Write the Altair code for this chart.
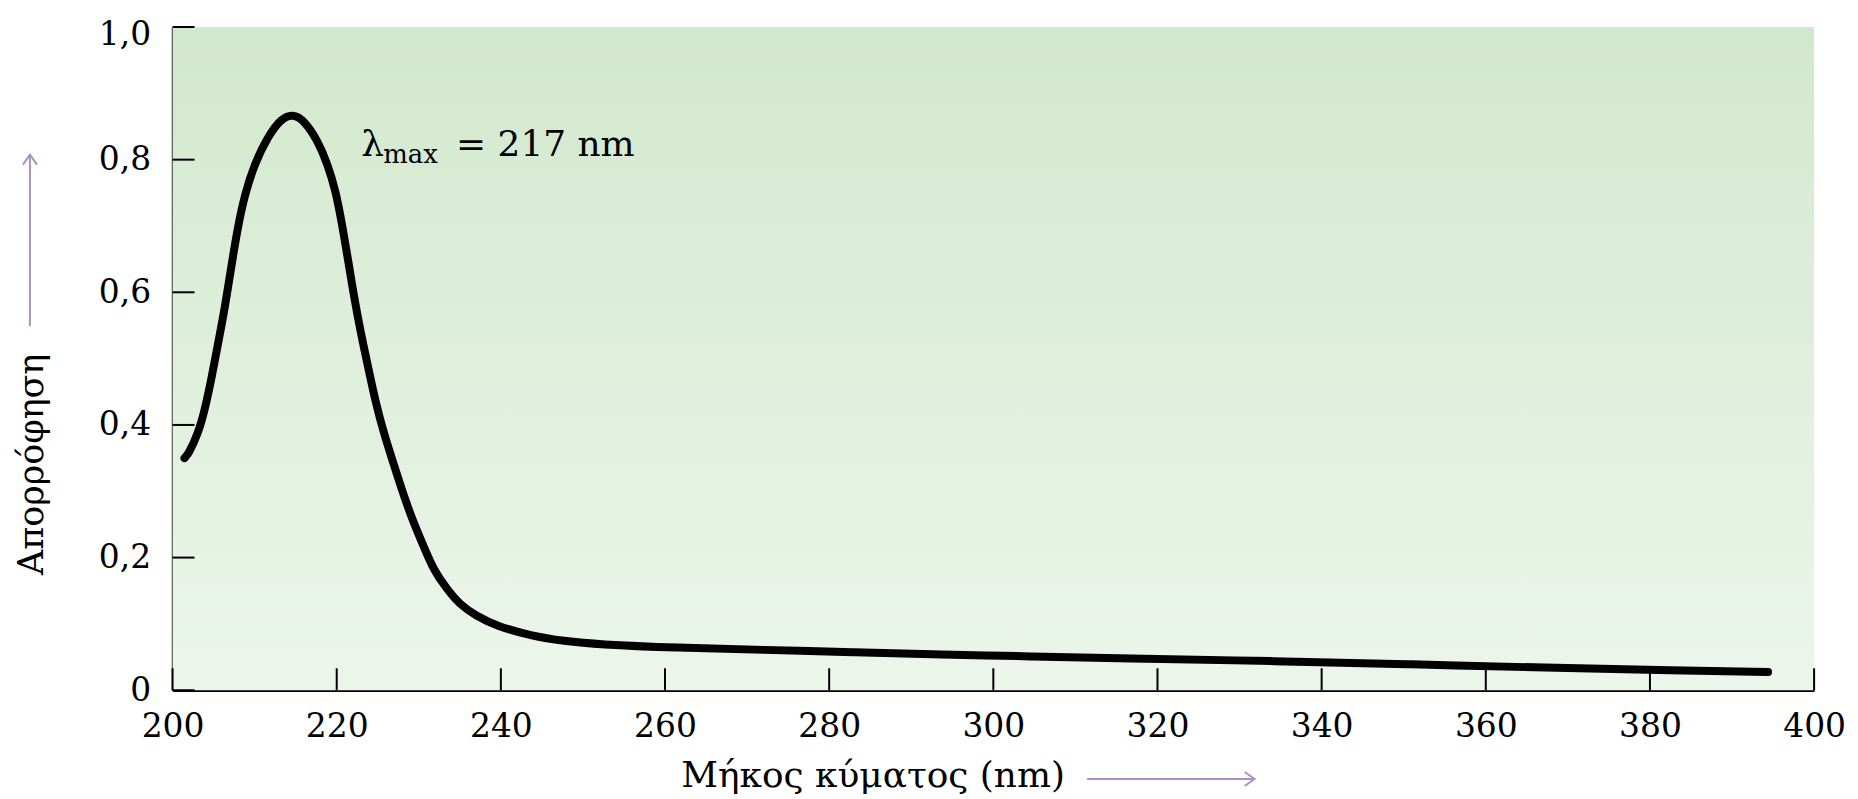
import altair as alt
import pandas as pd

# --- data ---
wavelength = [201.45, 201.94, 203.15, 203.95, 204.76, 205.56, 206.37, 207.18, 207.98, 208.79,
              210.0, 211.61, 213.23, 214.64, 216.05, 217.66, 218.87, 219.88, 220.69, 221.49,
              222.10, 222.90, 223.71, 224.72, 225.73, 226.94, 228.15, 229.35, 230.56, 231.77,
              233.39, 235.0, 237.02, 239.44, 243.7, 247.7, 251.8, 261.3, 272.1, 282.9,
              293.7, 304.6, 315.4, 334.7, 350.9, 367.2, 383.3, 394.4]
absorbance = [0.350, 0.356, 0.388, 0.424, 0.471, 0.524, 0.576, 0.641, 0.700, 0.747,
              0.794, 0.835, 0.862, 0.869, 0.859, 0.829, 0.794, 0.753, 0.700, 0.641,
              0.594, 0.541, 0.494, 0.435, 0.388, 0.341, 0.294, 0.253, 0.218, 0.182,
              0.153, 0.129, 0.112, 0.097, 0.082, 0.074, 0.069, 0.064, 0.061, 0.057,
              0.054, 0.051, 0.048, 0.044, 0.039, 0.034, 0.030, 0.0275]

x_ticks = [200, 220, 240, 260, 280, 300, 320, 340, 360, 380, 400]
y_ticks = [0, 0.2, 0.4, 0.6, 0.8, 1.0]

annot_x = 223.0
annot_y = 0.806

W, H = 1646, 665
FONT = "DejaVu Serif"
PURPLE = "#a98fc4"

df = pd.DataFrame({"wl": wavelength, "A": absorbance})
xt = pd.DataFrame({"v": x_ticks})
yt = pd.DataFrame({"v": y_ticks})
one = pd.DataFrame({"d": [0]})
ann = pd.DataFrame({"x": [annot_x], "y": [annot_y]})

xscale = alt.Scale(domain=[200, 400], nice=False, zero=False)
yscale = alt.Scale(domain=[0, 1], nice=False)

bg = alt.Chart(one).mark_rect(
    fill=alt.Gradient(gradient="linear",
                      stops=[alt.GradientStop(color="#d2e8cd", offset=0),
                             alt.GradientStop(color="#ecf6eb", offset=1)],
                      x1=0, x2=0, y1=0, y2=1)
).encode(x=alt.value(0), x2=alt.value(W), y=alt.value(0), y2=alt.value(H))

line = alt.Chart(df).mark_line(
    color="black", strokeWidth=8, interpolate="basis", strokeCap="round"
).encode(
    x=alt.X("wl:Q", scale=xscale,
            axis=alt.Axis(title="Μήκος κύματος (nm)", values=x_ticks, format="d",
                          grid=False, ticks=False, domain=True, domainColor="black",
                          domainWidth=2.5, labelFont=FONT, labelFontSize=33,
                          labelColor="black", labelPadding=20, labelOverlap=False,
                          labelFlush=False, labelBound=False,
                          titleFont=FONT, titleFontSize=36, titleFontWeight="normal",
                          titleColor="black", titleX=702, titleY=97,
                          titleBaseline="alphabetic", titleAlign="center")),
    y=alt.Y("A:Q", scale=yscale,
            axis=alt.Axis(title="Απορρόφηση", values=y_ticks,
                          labelExpr="datum.value == 0 ? '0' : replace(format(datum.value, '.1f'), '.', ',')",
                          labelOffset={"condition": {"test": "datum.value == 1", "value": 8}, "value": 0},
                          grid=False, ticks=False, domain=True, domainColor="black",
                          domainWidth=2.5, labelFont=FONT, labelFontSize=33,
                          labelColor="black", labelPadding=22, labelOverlap=False,
                          labelFlush=False, labelBound=False,
                          titleFont=FONT, titleFontSize=35, titleFontWeight="normal",
                          titleColor="black", titleX=-130, titleY=438, titleAngle=270,
                          titleBaseline="alphabetic", titleAlign="center")),
)

xtick = alt.Chart(xt).mark_rule(color="black", strokeWidth=2).encode(
    x=alt.X("v:Q", scale=xscale), y=alt.value(H), y2=alt.value(H - 22))
ytick = alt.Chart(yt).mark_rule(color="black", strokeWidth=2).encode(
    y=alt.Y("v:Q", scale=yscale), x=alt.value(0), x2=alt.value(22))

t_lambda = alt.Chart(ann).mark_text(text="λ", font=FONT, fontSize=36, align="left",
                                    baseline="alphabetic", color="black").encode(
    x=alt.X("x:Q", scale=xscale), y=alt.Y("y:Q", scale=yscale))
t_max = alt.Chart(ann).mark_text(text="max", font=FONT, fontSize=26, align="left",
                                 baseline="alphabetic", color="black", dx=22, dy=7).encode(
    x=alt.X("x:Q", scale=xscale), y=alt.Y("y:Q", scale=yscale))
t_rest = alt.Chart(ann).mark_text(text="= 217 nm", font=FONT, fontSize=36, align="left",
                                  baseline="alphabetic", color="black", dx=95).encode(
    x=alt.X("x:Q", scale=xscale), y=alt.Y("y:Q", scale=yscale))

# decorative arrows beside the axis titles
xarrow = alt.Chart(one).mark_rule(color=PURPLE, strokeWidth=2).encode(
    x=alt.value(917), x2=alt.value(1083), y=alt.value(754))
xhead = alt.Chart(one).mark_point(shape="M-1,-0.7L0,0L-1,0.7", size=400, filled=False,
                                  color=PURPLE, strokeWidth=2, opacity=1).encode(
    x=alt.value(1085), y=alt.value(754))
yarrow = alt.Chart(one).mark_rule(color=PURPLE, strokeWidth=2).encode(
    x=alt.value(-143), y=alt.value(130), y2=alt.value(300))
yhead = alt.Chart(one).mark_point(shape="M-0.7,1L0,0L0.7,1", size=400, filled=False,
                                  color=PURPLE, strokeWidth=2, opacity=1).encode(
    x=alt.value(-143), y=alt.value(128))

chart = alt.layer(bg, xtick, ytick, line, t_lambda, t_max, t_rest,
                  xarrow, xhead, yarrow, yhead).properties(
    width=W, height=H,
    autosize=alt.AutoSizeParams(type="none"),
    padding={"left": 165, "top": 18, "right": 36, "bottom": 106},
    background="white",
).configure_view(strokeWidth=0)

chart.save("out.html", embed_options={"renderer": "svg", "actions": False})
